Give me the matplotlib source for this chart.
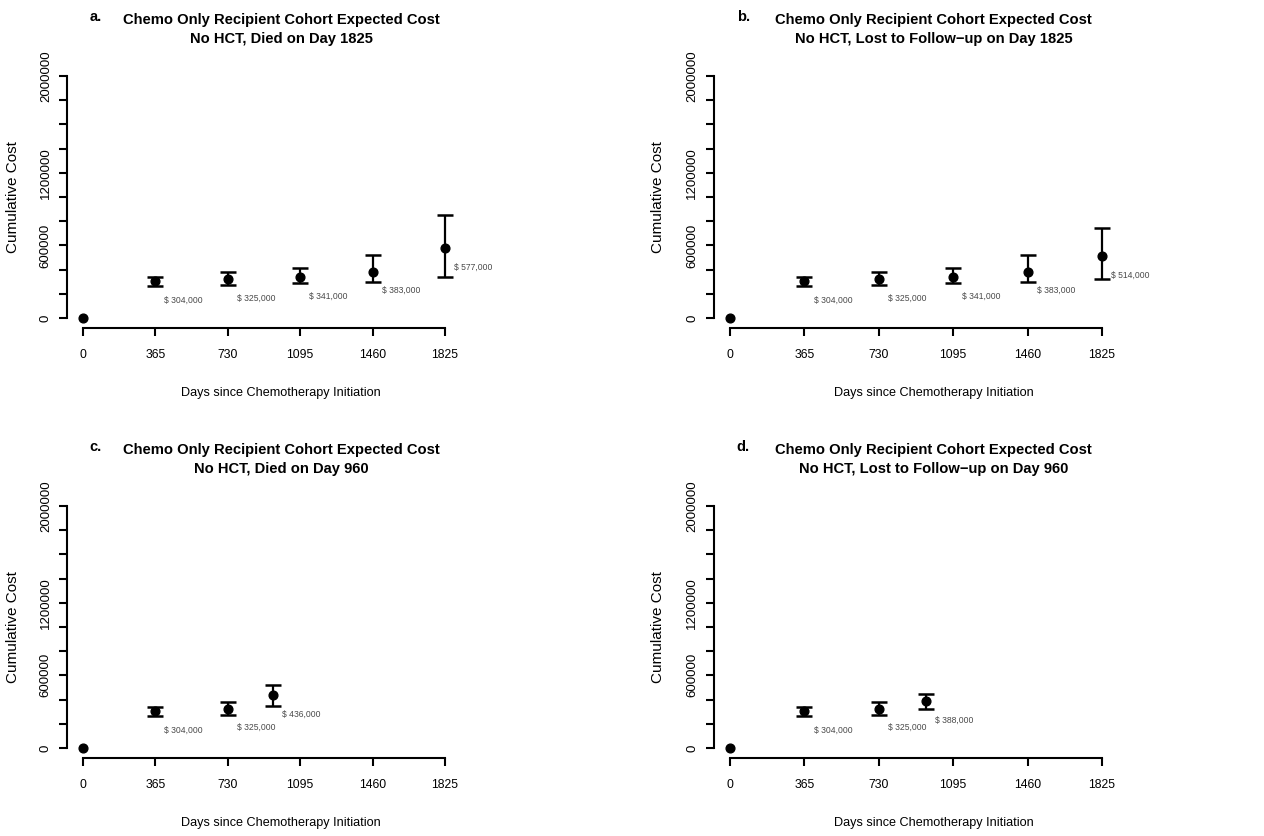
import numpy as np
import matplotlib
matplotlib.use('Agg')
import matplotlib.pyplot as plt

# ── Data ──────────────────────────────────────────────────────────────────────
days_full = [0, 365, 730, 1095, 1460, 1825]
days_short = [0, 365, 730, 960]

cost_a = [0, 304000, 325000, 341000, 383000, 577000]
low_a = [0, 265000, 275000, 287000, 299000, 342000]
high_a = [0, 341000, 378000, 417000, 520000, 848000]

cost_b = [0, 304000, 325000, 341000, 383000, 514000]
low_b = [0, 265000, 275000, 287000, 299000, 322000]
high_b = [0, 341000, 378000, 417000, 520000, 745000]

cost_c = [0, 304000, 325000, 436000]
low_c = [0, 265000, 275000, 343000]
high_c = [0, 341000, 378000, 517000]

cost_d = [0, 304000, 325000, 388000]
low_d = [0, 265000, 275000, 324000]
high_d = [0, 341000, 378000, 448000]

panel_letters = ['a.', 'b.', 'c.', 'd.']
panel_titles = [
    'Chemo Only Recipient Cohort Expected Cost\nNo HCT, Died on Day 1825',
    'Chemo Only Recipient Cohort Expected Cost\nNo HCT, Lost to Follow\u2212up on Day 1825',
    'Chemo Only Recipient Cohort Expected Cost\nNo HCT, Died on Day 960',
    'Chemo Only Recipient Cohort Expected Cost\nNo HCT, Lost to Follow\u2212up on Day 960',
]
x_ticks = [0, 365, 730, 1095, 1460, 1825]
y_ticks = list(range(0, 2000001, 200000))
y_labeled = [0, 600000, 1200000, 2000000]

plt.rcParams['font.family'] = ['Liberation Sans', 'DejaVu Sans']

# ── Figure ────────────────────────────────────────────────────────────────────
fig = plt.figure(figsize=(12.64, 8.36), dpi=100)

positions = [
    [0.0531, 0.6080, 0.3390, 0.3127],
    [0.5646, 0.6080, 0.3483, 0.3127],
    [0.0531, 0.0937, 0.3390, 0.3127],
    [0.5646, 0.0937, 0.3483, 0.3127],
]
series = [
    (days_full, cost_a, low_a, high_a),
    (days_full, cost_b, low_b, high_b),
    (days_short, cost_c, low_c, high_c),
    (days_short, cost_d, low_d, high_d),
]

for i, (pos, (days, cost, low, high)) in enumerate(zip(positions, series)):
    ax = fig.add_axes(pos)
    days = np.array(days)
    cost = np.array(cost)
    low = np.array(low)
    high = np.array(high)

    # points, with error bars after day 0
    ax.plot(days, cost, 'o', color='black', markersize=6.3, zorder=3)
    ax.errorbar(days[1:], cost[1:],
                yerr=[cost[1:] - low[1:], high[1:] - cost[1:]],
                fmt='none', ecolor='black', elinewidth=1.6,
                capsize=6.1, capthick=1.8)

    for d, c in zip(days[1:], cost[1:]):
        ax.text(d + 45, c - 158000, f'$ {c:,}', fontsize=6.2, color='#4a4a4a',
                ha='left', va='center')

    ax.set_xlim(-80, 2080)
    ax.set_ylim(-80000, 2080000)

    for side in ['top', 'right']:
        ax.spines[side].set_visible(False)
    ax.spines['left'].set_bounds(0, 2000000)
    ax.spines['bottom'].set_bounds(0, 1825)
    ax.spines['left'].set_linewidth(1.5)
    ax.spines['bottom'].set_linewidth(1.5)

    ax.set_xticks(x_ticks)
    ax.set_xticklabels([str(t) for t in x_ticks], fontsize=8.8)
    ax.set_yticks(y_ticks)
    ax.set_yticklabels([str(t) if t in y_labeled else '' for t in y_ticks],
                       rotation=90, va='center', fontsize=9.5)
    ax.tick_params(axis='x', length=6, width=1.5, pad=9, colors='black')
    ax.tick_params(axis='y', length=6, width=1.5, pad=5, colors='black')

    ax.set_xlabel('Days since Chemotherapy Initiation', fontsize=9.1, va='center')
    ax.xaxis.set_label_coords(0.5, -0.25)
    ax.set_ylabel('Cumulative Cost', fontsize=11, va='center')
    ax.yaxis.set_label_coords(-0.127, 0.5)

    ax.text(0.5, 1.141, panel_titles[i], transform=ax.transAxes, ha='center',
            va='center', fontsize=10.6, fontweight='bold', linespacing=1.5)
    ax.text(0.067, 1.187, panel_letters[i], transform=ax.transAxes, ha='center',
            va='center', fontsize=10.5, fontweight='bold')

fig.savefig('out.png', dpi=100)
